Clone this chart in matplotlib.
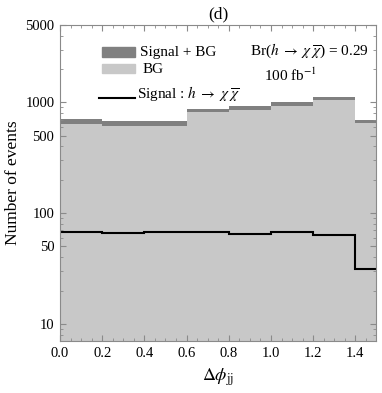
import numpy as np
import matplotlib
matplotlib.use("Agg")
import matplotlib.pyplot as plt
from matplotlib.patches import Rectangle
from matplotlib.ticker import FixedLocator, MultipleLocator, LogLocator, NullFormatter

plt.rcParams['font.family'] = ['Liberation Serif', 'DejaVu Serif']
plt.rcParams['mathtext.fontset'] = 'stix'

# bins in delta phi_jj
edges = [0.0, 0.2, 0.4, 0.6, 0.8, 1.0, 1.2, 1.4, 1.6]
bg = [637, 615, 615, 811, 857, 931, 1057, 658]
signal = [67, 66, 68, 67, 65, 68, 64, 31]
total = [b + s for b, s in zip(bg, signal)]

ytick_vals = [10, 50, 100, 500, 1000, 5000]
xtick_vals = [0.0, 0.2, 0.4, 0.6, 0.8, 1.0, 1.2, 1.4]

dark = '#808080'
light = '#c8c8c8'
frame = '#8a8a8a'

fig = plt.figure(figsize=(3.82, 3.93), dpi=100)
ax = fig.add_axes([0.157, 0.1323, 0.8286, 0.8041])
ax.set_yscale('log')

ax.stairs(total, edges, fill=True, color=dark, baseline=1)
ax.stairs(bg, edges, fill=True, color=light, baseline=1)
ax.stairs(signal, edges, color='black', lw=1.5, baseline=None)

ax.set_xlim(0, 1.5)
ax.set_ylim(7, 5000)

ax.xaxis.set_major_locator(FixedLocator(xtick_vals))
ax.xaxis.set_minor_locator(MultipleLocator(0.05))
ax.set_xticklabels([f'{v:.1f}' for v in xtick_vals])
ax.yaxis.set_major_locator(FixedLocator(ytick_vals))
ax.set_yticklabels([str(v) for v in ytick_vals])
ax.yaxis.set_minor_locator(LogLocator(base=10, subs=np.arange(2, 10)))
ax.yaxis.set_minor_formatter(NullFormatter())

ax.tick_params(which='both', direction='in', top=True, right=True,
               color=frame, labelsize=10.5, pad=4)
ax.tick_params(which='major', length=4, width=0.8)
ax.tick_params(which='minor', length=2, width=0.6)
for sp in ax.spines.values():
    sp.set_color(frame)
    sp.set_linewidth(0.8)

ax.set_ylabel('Number of events', fontsize=12.5, labelpad=3)
ax.set_xlabel(r'$\Delta\phi_{\mathrm{jj}}$', fontsize=13, labelpad=5)
ax.set_title('(d)', fontsize=12.5, pad=5)

# legend drawn by hand
tr = ax.transAxes
ax.add_patch(Rectangle((0.133, 0.899), 0.104, 0.031, transform=tr, color=dark, clip_on=False))
ax.add_patch(Rectangle((0.133, 0.849), 0.104, 0.029, transform=tr, color=light, clip_on=False))
ax.plot([0.123, 0.237], [0.770, 0.770], transform=tr, color='black', lw=1.5)
ax.text(0.253, 0.912, 'Signal + BG', transform=tr, fontsize=11, va='center')
ax.text(0.262, 0.860, 'BG', transform=tr, fontsize=11, va='center')
ax.text(0.243, 0.780, r'Signal : $h\;\rightarrow\;\chi\;\overline{\chi}$', transform=tr,
        fontsize=11, va='center')
ax.text(0.60, 0.918, r'Br($h\;\rightarrow\;\chi\;\overline{\chi}$) = 0.29', transform=tr,
        fontsize=11, va='center')
ax.text(0.73, 0.842, r'100 fb$^{-1}$', transform=tr, fontsize=11, va='center', ha='center')

fig.savefig('out.png', dpi=100)
